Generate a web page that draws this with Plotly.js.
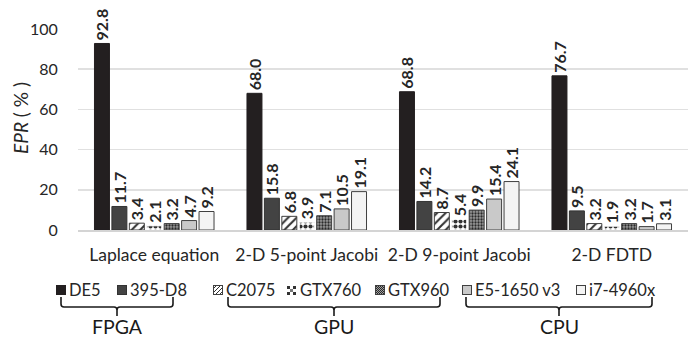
<!DOCTYPE html>
<html>
<head>
<meta charset="utf-8">
<script src="https://cdn.plot.ly/plotly-3.0.1.min.js"></script>
<style>html,body{margin:0;padding:0;background:#fff}#chart{width:690px;height:338px}</style>
</head>
<body>
<div id="chart"></div>
<script>
// ---- data ----
const categories = ['Laplace equation', '2-D 5-point Jacobi', '2-D 9-point Jacobi', '2-D FDTD'];
const seriesNames = ['DE5', '395-D8', 'C2075', 'GTX760', 'GTX960', 'E5-1650 v3', 'i7-4960x'];
const de5     = [92.8, 68.0, 68.8, 76.7];
const d8_395  = [11.7, 15.8, 14.2, 9.5];
const c2075   = [3.4, 6.8, 8.7, 3.2];
const gtx760  = [2.1, 3.9, 5.4, 1.9];
const gtx960  = [3.2, 7.1, 9.9, 3.2];
const e5_1650 = [4.7, 10.5, 15.4, 1.7];
const i7_4960 = [9.2, 19.1, 24.1, 3.1];
const yTickVals = [0, 20, 40, 60, 80, 100];
const groupNames = ['FPGA', 'GPU', 'CPU'];
const yTitle = '<i>EPR</i> ( % )';

const seriesValues = [de5, d8_395, c2075, gtx760, gtx960, e5_1650, i7_4960];

// ---- styles ----
const FONT = 'Lato, "Open Sans", sans-serif';
const OUT = '#404040';
const styles = [
  {color: '#231f20', line: '#231f20'},
  {color: '#434343', line: '#333333'},
  {color: '#ffffff', line: OUT, pattern: {shape: '/', fgcolor: '#333333', bgcolor: '#ffffff', size: 6, solidity: 0.35}, svg: 'diag'},
  {color: '#ffffff', line: '#ffffff', pattern: {shape: '.', fgcolor: '#333333', bgcolor: '#ffffff', size: 5, solidity: 0.55}, svg: 'check'},
  {color: '#7a7a7a', line: OUT, pattern: {shape: '.', fgcolor: '#2a2a2a', bgcolor: '#9a9a9a', size: 3, solidity: 0.45}, svg: 'dots'},
  {color: '#c9c9c9', line: OUT},
  {color: '#f4f4f4', line: OUT}
];

// plot geometry (pixels)
const L = 78, R = 2, T = 29, B = 108, WIDTH = 690, HEIGHT = 338;
const PW = WIDTH - L - R, PH = HEIGHT - T - B;
const X = px => (px - L) / PW;
const Y = py => (HEIGHT - B - py) / PH;

const traces = seriesNames.map((name, i) => {
  const s = styles[i];
  const marker = {color: s.color, line: {color: s.line, width: 1}};
  if (s.pattern) marker.pattern = s.pattern;
  return {
    type: 'bar',
    name: name,
    x: categories,
    y: seriesValues[i],
    marker: marker,
    texttemplate: '%{y:.1f}',
    textposition: 'outside',
    textangle: -90,
    constraintext: 'none',
    cliponaxis: false,
    outsidetextfont: {family: FONT, size: 16, color: '#262626', weight: 'bold'},
    showlegend: false,
    hoverinfo: 'skip'
  };
});

// legend swatches (svg images) + text
function swatchSvg(s) {
  let inner = '';
  if (s.svg === 'diag') {
    inner = '<rect x="0.5" y="0.5" width="9" height="9" fill="#fff" stroke="#404040"/>' +
      '<path d="M0,4 L4,0 M0,8 L8,0 M2,10 L10,2 M6,10 L10,6" stroke="#333" stroke-width="1"/>' +
      '<rect x="0.5" y="0.5" width="9" height="9" fill="none" stroke="#404040"/>';
  } else if (s.svg === 'check') {
    inner = '<rect width="10" height="10" fill="#fff"/>' +
      '<rect x="0" y="1" width="3" height="3" fill="#333"/><rect x="6" y="1" width="3" height="3" fill="#333"/>' +
      '<rect x="3" y="4" width="3" height="3" fill="#777"/>' +
      '<rect x="0" y="7" width="3" height="3" fill="#333"/><rect x="6" y="7" width="3" height="3" fill="#333"/>';
  } else if (s.svg === 'dots') {
    inner = '<defs><pattern id="p" width="2" height="2" patternUnits="userSpaceOnUse"><rect width="2" height="2" fill="#a0a0a0"/><rect width="1" height="1" fill="#2a2a2a"/><rect x="1" y="1" width="1" height="1" fill="#2a2a2a"/></pattern></defs>' +
      '<rect x="0.5" y="0.5" width="9" height="9" fill="url(#p)" stroke="#404040"/>';
  } else {
    inner = '<rect x="0.5" y="0.5" width="9" height="9" fill="' + s.color + '" stroke="' + s.line + '"/>';
  }
  const svg = '<svg xmlns="http://www.w3.org/2000/svg" width="10" height="10" viewBox="0 0 10 10">' + inner + '</svg>';
  return 'data:image/svg+xml;charset=utf-8,' + encodeURIComponent(svg);
}

const legendSwatchX = [56, 117, 213, 287, 375, 462, 576];
const legendY = 290;
const images = seriesNames.map((n, i) => ({
  source: swatchSvg(styles[i]),
  xref: 'paper', yref: 'paper',
  x: X(legendSwatchX[i]), y: Y(legendY - 5),
  sizex: 10 / PW, sizey: 10 / PH,
  xanchor: 'left', yanchor: 'top', sizing: 'stretch', layer: 'above'
}));

const annotations = seriesNames.map((n, i) => ({
  text: n, xref: 'paper', yref: 'paper',
  x: X(legendSwatchX[i] + 11), y: Y(legendY),
  xanchor: 'left', yanchor: 'middle', showarrow: false,
  font: {family: FONT, size: 16.5, color: '#262626'}
}));

// y-axis title
annotations.push({
  text: yTitle, xref: 'paper', yref: 'paper',
  x: X(20), y: Y(118), xanchor: 'center', yanchor: 'middle', showarrow: false,
  textangle: -90, font: {family: FONT, size: 19, color: '#262626'}
});

// group braces
const braceSpans = [[61, 173], [228, 440], [466, 652]];
const shapes = [];
braceSpans.forEach((sp, g) => {
  const x1 = sp[0], x2 = sp[1], xm = (x1 + x2) / 2;
  const y0 = 297, y1 = 307, r = 3, yt = 316;
  const p = (a, b) => X(a) + ',' + Y(b);
  const path = 'M' + p(x1, y0) + ' L' + p(x1, y1 - r) + ' Q' + p(x1, y1) + ' ' + p(x1 + r, y1) +
    ' L' + p(xm - r, y1) + ' Q' + p(xm, y1) + ' ' + p(xm, y1 + r) + ' L' + p(xm, yt) +
    ' M' + p(xm, y1 + r) + ' Q' + p(xm, y1) + ' ' + p(xm + r, y1) +
    ' L' + p(x2 - r, y1) + ' Q' + p(x2, y1) + ' ' + p(x2, y1 - r) + ' L' + p(x2, y0);
  shapes.push({type: 'path', xref: 'paper', yref: 'paper', path: path, line: {color: '#1a1a1a', width: 1.6}});
  annotations.push({
    text: groupNames[g], xref: 'paper', yref: 'paper',
    x: X(xm), y: Y(326), xanchor: 'center', yanchor: 'middle', showarrow: false,
    font: {family: FONT, size: 19.5, color: '#1a1a1a'}
  });
});

const layout = {
  width: WIDTH, height: HEIGHT,
  margin: {l: L, r: R, t: T, b: B, pad: 0},
  paper_bgcolor: '#ffffff', plot_bgcolor: '#ffffff',
  barmode: 'group', bargap: 0.2, bargroupgap: 0.14,
  showlegend: false,
  font: {family: FONT, color: '#262626'},
  xaxis: {
    type: 'category', showgrid: false, zeroline: false,
    showline: true, linecolor: '#d4d4d4', linewidth: 1.5,
    ticks: 'outside', ticklen: 8, tickcolor: 'rgba(0,0,0,0)',
    tickfont: {family: FONT, size: 17.5, color: '#262626'}
  },
  yaxis: {
    range: [0, 100], tickvals: yTickVals, ticktext: yTickVals.map(String),
    showgrid: true, gridcolor: '#e0e0e0', gridwidth: 1.5, zeroline: false,
    showline: false, ticks: 'outside', ticklen: 16, tickcolor: 'rgba(0,0,0,0)',
    tickfont: {family: FONT, size: 16, color: '#262626'}
  },
  shapes: shapes,
  annotations: annotations,
  images: images
};

Plotly.newPlot('chart', traces, layout, {staticPlot: true, displayModeBar: false});
</script>
</body>
</html>
